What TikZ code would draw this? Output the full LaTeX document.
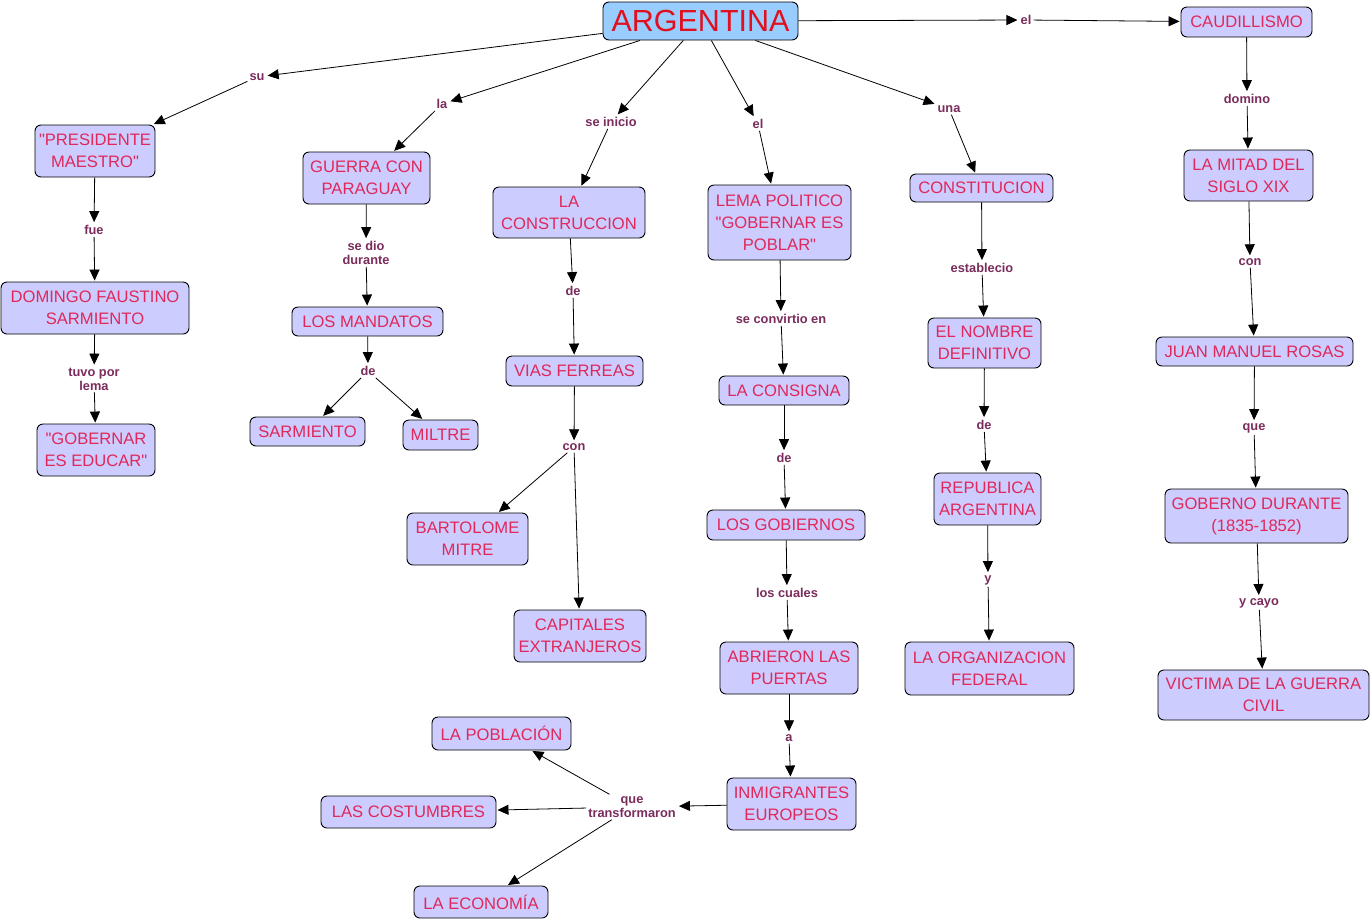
\documentclass[tikz,border=0pt]{standalone}
\usepackage{fontspec}
\setmainfont{Liberation Sans}
\newfontfamily\cfont{Liberation Sans}
\usetikzlibrary{arrows.meta}
\definecolor{cfill}{HTML}{CCCCFF}
\definecolor{afill}{HTML}{99CCFF}
\definecolor{ctext}{HTML}{E0285A}
\definecolor{atext}{HTML}{E0101E}
\definecolor{ltext}{HTML}{7A2C5C}
\tikzset{
  concept/.style={draw=black, line width=0.9pt, fill=cfill, rounded corners=6pt,
    text=ctext, align=center, inner sep=2pt,
    font=\cfont\fontsize{16.6}{22}\selectfont},
  sz/.style 2 args={minimum width=#1pt, minimum height=#2pt},
  lbl/.style={text=ltext, align=center, inner sep=2pt,
    font=\fontsize{12.8}{14}\selectfont\bfseries},
  conn/.style={draw=black, line width=0.8pt, -{Triangle[length=11pt,width=10pt]}, shorten >=1pt}
}
\begin{document}
\begin{tikzpicture}[x=1pt,y=-1pt]
\useasboundingbox[fill=white] (0,0) rectangle (1372,922);
% concepts
\node[concept, fill=afill, text=atext, font=\cfont\fontsize{30.5}{34}\selectfont, sz={195}{38}] (arg) at (700.5,21) {ARGENTINA};
\node[concept, sz={131}{30}] (caud) at (1246.5,22) {CAUDILLISMO};
\node[concept, sz={120}{52}] (pres) at (95,151) {"PRESIDENTE\\MAESTRO"};
\node[concept, sz={127}{52}] (guerra) at (366.5,178) {GUERRA CON\\PARAGUAY};
\node[concept, sz={152}{51}] (constr) at (569,212.5) {LA\\CONSTRUCCION};
\node[concept, sz={143}{75}] (lema) at (779.5,222.5) {LEMA POLITICO\\"GOBERNAR ES\\POBLAR"};
\node[concept, sz={143}{28}] (const) at (981.5,188) {CONSTITUCION};
\node[concept, sz={129}{51}] (mitad) at (1248.5,175.5) {LA MITAD DEL\\SIGLO XIX};
\node[concept, sz={188}{52}] (domingo) at (95,308) {DOMINGO FAUSTINO\\SARMIENTO};
\node[concept, sz={151}{29}] (mand) at (367.5,321.5) {LOS MANDATOS};
\node[concept, sz={137}{30}] (vias) at (574.5,371) {VIAS FERREAS};
\node[concept, sz={130}{29}] (consigna) at (784,390.5) {LA CONSIGNA};
\node[concept, sz={113}{50}] (nombre) at (984.5,343) {EL NOMBRE\\DEFINITIVO};
\node[concept, sz={197}{29}] (juan) at (1254.5,351.5) {JUAN MANUEL ROSAS};
\node[concept, sz={118}{52}] (gobedu) at (96,450) {"GOBERNAR\\ES EDUCAR"};
\node[concept, sz={115}{29}] (sarm) at (307.5,431.5) {SARMIENTO};
\node[concept, sz={75}{30}] (miltre) at (440.5,435) {MILTRE};
\node[concept, sz={121}{52}] (bart) at (467.5,539) {BARTOLOME\\MITRE};
\node[concept, sz={158}{30}] (gobiernos) at (786,525) {LOS GOBIERNOS};
\node[concept, sz={107}{52}] (repub) at (987.5,499) {REPUBLICA\\ARGENTINA};
\node[concept, sz={183}{54}] (gobdur) at (1256.5,516) {GOBERNO DURANTE\\(1835-1852)};
\node[concept, sz={132}{52}] (capit) at (580,636) {CAPITALES\\EXTRANJEROS};
\node[concept, sz={138}{52}] (abrieron) at (789,668) {ABRIERON LAS\\PUERTAS};
\node[concept, sz={169}{53}] (organiz) at (989.5,668.5) {LA ORGANIZACION\\FEDERAL};
\node[concept, sz={211}{50}] (victima) at (1263.5,695) {VICTIMA DE LA GUERRA\\CIVIL};
\node[concept, sz={139}{33}] (poblacion) at (501.5,733.5) {LA POBLACIÓN};
\node[concept, sz={175}{32}] (costumbres) at (408.5,812) {LAS COSTUMBRES};
\node[concept, sz={134}{32}] (economia) at (481,902) {LA ECONOMÍA};
\node[concept, sz={129}{52}] (inmig) at (791.5,804) {INMIGRANTES\\EUROPEOS};
% labels
\node[lbl] (lsu) at (257,77) {su};
\node[lbl] (lla) at (442,104) {la};
\node[lbl] (lseinicio) at (611,122) {se inicio};
\node[lbl] (lelA) at (758,124) {el};
\node[lbl] (luna) at (949,109) {una};
\node[lbl] (lelB) at (1026,20) {el};
\node[lbl] (ldomino) at (1247,99) {domino};
\node[lbl] (lfue) at (94,230) {fue};
\node[lbl] (lsedio) at (366,253) {se dio\\durante};
\node[lbl] (ldeA) at (368,371) {de};
\node[lbl] (ldeB) at (573,291) {de};
\node[lbl] (lseconv) at (781,319) {se convirtio en};
\node[lbl] (lestab) at (982,268) {establecio};
\node[lbl] (lconA) at (1250,262) {con};
\node[lbl] (ltuvo) at (94,379) {tuvo por\\lema};
\node[lbl] (lconB) at (574,447) {con};
\node[lbl] (ldeC) at (784,458) {de};
\node[lbl] (ldeD) at (984,425) {de};
\node[lbl] (lque) at (1254,428) {que};
\node[lbl] (lloscuales) at (787,593) {los cuales};
\node[lbl] (ly) at (988,580) {y};
\node[lbl] (lycayo) at (1259,603) {y cayo};
\node[lbl] (la) at (789,738) {a};
\node[lbl] (lquetr) at (632,807) {que\\transformaron};
% connectors
\draw[conn] (arg) -- (lsu);
\draw[conn] (lsu) -- (pres);
\draw[conn] (arg) -- (lla);
\draw[conn] (lla) -- (guerra);
\draw[conn] (arg) -- (lseinicio);
\draw[conn] (lseinicio) -- (constr);
\draw[conn] (arg) -- (lelA);
\draw[conn] (lelA) -- (lema);
\draw[conn] (arg) -- (luna);
\draw[conn] (luna) -- (const);
\draw[conn] (arg) -- (lelB);
\draw[conn] (lelB) -- (caud);
\draw[conn] (caud) -- (ldomino);
\draw[conn] (ldomino) -- (mitad);
\draw[conn] (mitad) -- (lconA);
\draw[conn] (lconA) -- (juan);
\draw[conn] (juan) -- (lque);
\draw[conn] (lque) -- (gobdur);
\draw[conn] (gobdur) -- (lycayo);
\draw[conn] (lycayo) -- (victima);
\draw[conn] (pres) -- (lfue);
\draw[conn] (lfue) -- (domingo);
\draw[conn] (domingo) -- (ltuvo);
\draw[conn] (ltuvo) -- (gobedu);
\draw[conn] (guerra) -- (lsedio);
\draw[conn] (lsedio) -- (mand);
\draw[conn] (mand) -- (ldeA);
\draw[conn] (ldeA) -- (sarm);
\draw[conn] (ldeA) -- (miltre);
\draw[conn] (constr) -- (ldeB);
\draw[conn] (ldeB) -- (vias);
\draw[conn] (vias) -- (lconB);
\draw[conn] (lconB) -- (bart);
\draw[conn] (lconB) -- (capit);
\draw[conn] (lema) -- (lseconv);
\draw[conn] (lseconv) -- (consigna);
\draw[conn] (consigna) -- (ldeC);
\draw[conn] (ldeC) -- (gobiernos);
\draw[conn] (gobiernos) -- (lloscuales);
\draw[conn] (lloscuales) -- (abrieron);
\draw[conn] (abrieron) -- (la);
\draw[conn] (la) -- (inmig);
\draw[conn] (inmig) -- (lquetr);
\draw[conn] (lquetr) -- (poblacion);
\draw[conn] (lquetr) -- (costumbres);
\draw[conn] (lquetr) -- (economia);
\draw[conn] (const) -- (lestab);
\draw[conn] (lestab) -- (nombre);
\draw[conn] (nombre) -- (ldeD);
\draw[conn] (ldeD) -- (repub);
\draw[conn] (repub) -- (ly);
\draw[conn] (ly) -- (organiz);
\end{tikzpicture}
\end{document}
